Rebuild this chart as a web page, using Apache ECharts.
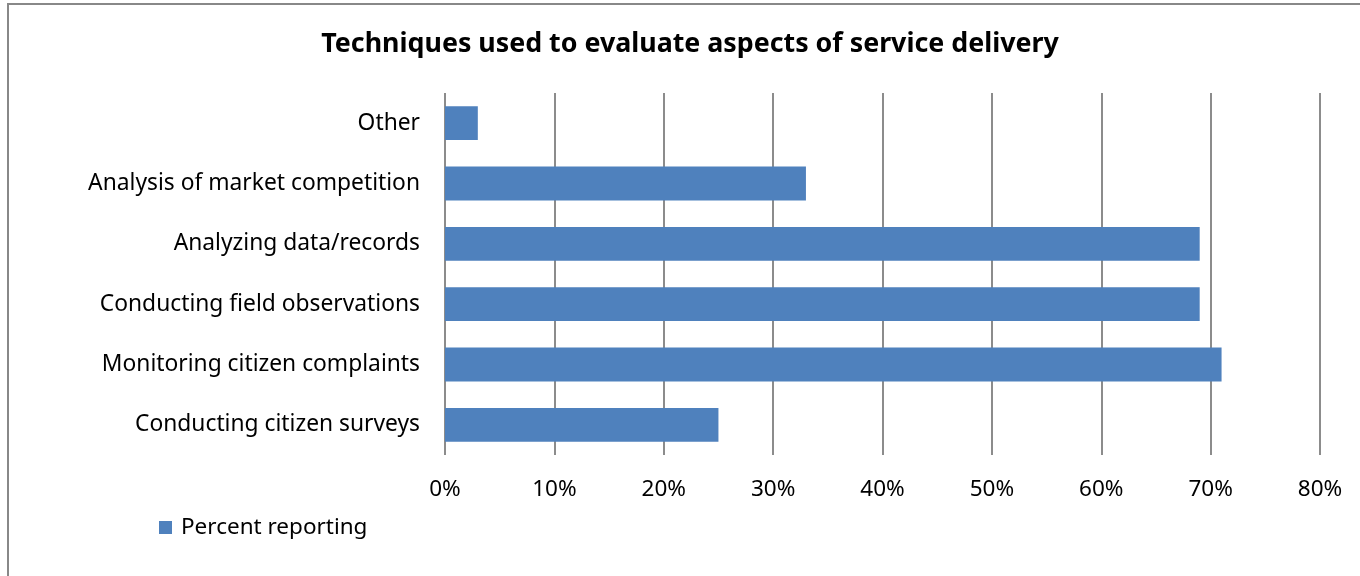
<!DOCTYPE html>
<html><head><meta charset="utf-8">
<script src="https://cdn.jsdelivr.net/npm/echarts@6/dist/echarts.min.js"></script>
<style>html,body{margin:0;padding:0;background:#fff}#c{width:1360px;height:576px}</style>
</head><body><div id="c"></div>
<script>
const categories = ["Conducting citizen surveys","Monitoring citizen complaints","Conducting field observations","Analyzing data/records","Analysis of market competition","Other"];
const values = [25, 71, 69, 69, 33, 3];
const seriesName = "Percent reporting";
const titleText = "Techniques used to evaluate aspects of service delivery";
const chart = echarts.init(document.getElementById('c'));
const FONT = "Noto Sans";
chart.setOption({
  animation:false,
  backgroundColor:'#fff',
  graphic:[{type:'rect',shape:{x:8,y:4,width:1400,height:620},style:{fill:'none',stroke:'#888',lineWidth:2},silent:true}],
  title:{text:titleText,left:685,top:26,textAlign:'center',textStyle:{fontFamily:FONT,fontWeight:'bold',fontSize:26.8,color:'#000'}},
  legend:{left:159,top:516,padding:0,itemWidth:13,itemHeight:13,itemGap:8,icon:'rect',textStyle:{fontFamily:FONT,fontSize:22.5,color:'#000',padding:[0,0,0,4]},data:[seriesName]},
  grid:{left:445,right:40,top:93,bottom:121,containLabel:false},
  xAxis:{type:'value',min:0,max:80,interval:10,
    axisLabel:{formatter:'{value}%',fontFamily:FONT,fontSize:22.5,color:'#000',margin:23},
    axisLine:{show:false},axisTick:{show:false},
    splitLine:{show:true,lineStyle:{color:'#8c8c8c',width:2}}},
  yAxis:{type:'category',data:categories,
    axisLabel:{fontFamily:FONT,fontSize:22.8,color:'#000',margin:25},
    axisLine:{show:false},axisTick:{show:false}},
  series:[{name:seriesName,type:'bar',data:values,barWidth:'56%',itemStyle:{color:'#4f81bd'}}]
});
</script></body></html>
